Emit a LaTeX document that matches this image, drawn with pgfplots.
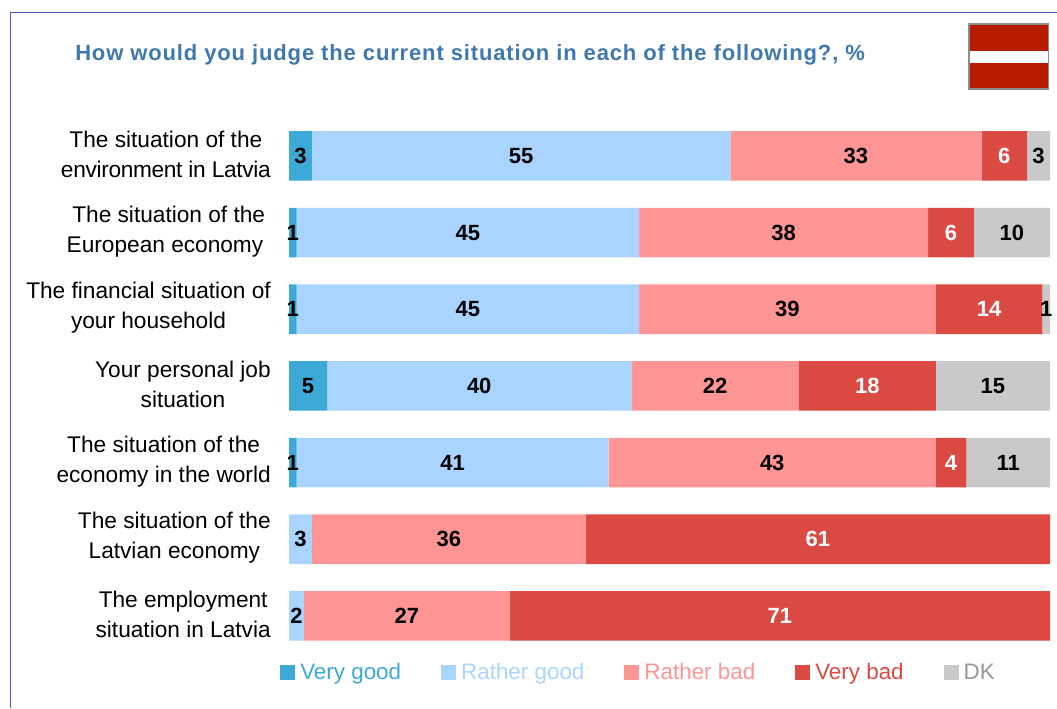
\documentclass[border=0pt]{standalone}
\usepackage{fontspec}
\setmainfont{Liberation Sans}
\usepackage{pgfplots}
\usepackage{pgfplotstable}
\pgfplotsset{compat=1.18}

\definecolor{vgood}{HTML}{3DA9D6}
\definecolor{rgood}{HTML}{A8D4FF}
\definecolor{rbad}{HTML}{FF9594}
\definecolor{vbad}{HTML}{DA4A42}
\definecolor{dk}{HTML}{C9C9C9}
\definecolor{dktext}{HTML}{969696}
\definecolor{titleblue}{HTML}{3F78AE}
\definecolor{framecol}{HTML}{5058B8}
\definecolor{flagred}{HTML}{B81C00}
\definecolor{flagedge}{HTML}{8C8C8C}

% one row per question: very good, rather good, rather bad, very bad, don't know
\pgfplotstableread{
row vg rg rb vb dk
1   3  55 33 6  3
2   1  45 38 6  10
3   1  45 39 14 1
4   5  40 22 18 15
5   1  41 43 4  11
6   0  3  36 61 0
7   0  2  27 71 0
}\answers

\begin{document}
\begin{tikzpicture}
\path[use as bounding box] (0,0) rectangle (792.75pt,531pt);

% outer frame (open at the right and at the bottom)
\draw[framecol, line width=1.1pt] (7.9pt,0) -- (7.9pt,521.6pt) -- (792.75pt,521.6pt);

% heading
\node[anchor=base west, inner sep=0pt, text=titleblue, font=\bfseries\fontsize{16.5pt}{19pt}\selectfont\addfontfeature{LetterSpace=3.9}]
  at (56.25pt,485.25pt) {How would you judge the current situation in each of the following?, \%};

% flag of Latvia
\fill[flagedge] (726pt,463.5pt) rectangle (787pt,513.75pt);
\fill[flagred] (727.5pt,465pt) rectangle (786pt,512.25pt);
\fill[white] (727.5pt,483.5pt) rectangle (786pt,493pt);

\begin{axis}[
  at={(216.75pt,40.3pt)}, anchor=south west,
  scale only axis, width=570.75pt, height=402.5pt,
  xbar stacked, bar width=37.2pt,
  xmin=0, xmax=100, ymin=0.5, ymax=7.5,
  y dir=reverse, clip=false,
  axis line style={draw=none},
  xtick=\empty,
  ytick={1,...,7},
  major tick length=0pt,
  yticklabels={
    {The situation of the\\{\addfontfeature{LetterSpace=-1.4}environment in Latvia}},
    {The situation of the\\European economy\hspace*{5.6pt}},
    {The financial situation of\\your household},
    {Your personal job\\situation},
    {The situation of the\\economy in the world},
    {The situation of the\\Latvian economy},
    {The employment\\situation in Latvia}},
  yticklabel style={align=center, inner sep=0pt, xshift=-13.5pt, yshift=1.1pt,
    font=\fontsize{17pt}{22.5pt}\selectfont},
  visualization depends on={rawx \as \rawval},
  /pgf/number format/assume math mode=true,
  nodes near coords={\ifdim\rawval pt>0pt \pgfmathprintnumber{\rawval}\fi},
  every node near coord/.append style={anchor=center, inner sep=0pt,
    font=\bfseries\fontsize{16.5pt}{19pt}\selectfont},
  legend columns=5,
  legend cell align=left,
  legend image code/.code={\fill[#1] (0pt,-5.5pt) rectangle (11.25pt,5.5pt);},
  legend style={draw=none, fill=none, inner sep=0pt,
    at={(axis description cs:-0.0118,-0.0162)}, anchor=north west,
    nodes={inner sep=0pt, font=\fontsize{16.8pt}{19pt}\selectfont},
    /tikz/every even column/.append style={column sep=30pt},
    /tikz/every odd column/.append style={column sep=3.75pt}},
]
\addplot[fill=vgood, draw=none, text=black] table[x=vg, y=row] {\answers};
\addplot[fill=rgood, draw=none, text=black] table[x=rg, y=row] {\answers};
\addplot[fill=rbad,  draw=none, text=black] table[x=rb, y=row] {\answers};
\addplot[fill=vbad,  draw=none, text=white] table[x=vb, y=row] {\answers};
\addplot[fill=dk,    draw=none, text=black] table[x=dk, y=row] {\answers};
\legend{\textcolor{vgood}{Very good},\textcolor{rgood}{Rather good},\textcolor{rbad}{Rather bad},\textcolor{vbad}{Very bad},\textcolor{dktext}{DK}}
\end{axis}
\end{tikzpicture}
\end{document}
